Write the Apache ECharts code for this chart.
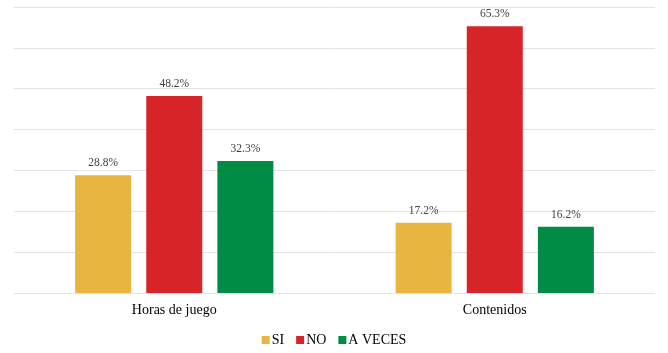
<!DOCTYPE html>
<html><head><meta charset="utf-8">
<script src="https://cdn.jsdelivr.net/npm/echarts@6/dist/echarts.min.js"></script>
<style>html,body{margin:0;padding:0;background:#fff}#c{width:668px;height:353px}</style>
</head><body><div id="c"></div>
<script>
var categories = ["Horas de juego", "Contenidos"];
var seriesNames = ["SI", "NO", "A VECES"];
var siValues = [28.8, 17.2];
var noValues = [48.2, 65.3];
var aVecesValues = [32.3, 16.2];
var colors = ["#E9B541", "#D62428", "#008C45"];
var font = "Liberation Serif";
function mk(name, data, color) {
  return {
    name: name, type: "bar", data: data, barWidth: 56, barGap: "27%",
    itemStyle: {color: color},
    label: {show: true, position: "top", distance: 6, formatter: function(p){return p.value.toFixed(1) + "%";},
      fontFamily: font, fontSize: 11.5, color: "#404040"}
  };
}
var chart = echarts.init(document.getElementById("c"));
chart.setOption({
  animation: false,
  textStyle: {fontFamily: font},
  grid: {left: 14, right: 13, top: 7, bottom: 60, containLabel: false},
  legend: {data: seriesNames, bottom: 1, left: "center", itemWidth: 8, itemHeight: 8, itemGap: 12, icon: "rect",
    textStyle: {fontFamily: font, fontSize: 14, color: "#000", padding: [0, 0, 0, -3]}},
  xAxis: {type: "category", data: categories, axisLine: {show: false}, axisTick: {show: false},
    axisLabel: {fontFamily: font, fontSize: 14, color: "#000", margin: 10}},
  yAxis: {type: "value", min: 0, max: 70, interval: 10, axisLabel: {show: false}, axisLine: {show: false},
    axisTick: {show: false}, splitLine: {lineStyle: {color: "#e4e4e4", width: 1}}},
  series: [mk(seriesNames[0], siValues, colors[0]), mk(seriesNames[1], noValues, colors[1]), mk(seriesNames[2], aVecesValues, colors[2])]
});
</script></body></html>
